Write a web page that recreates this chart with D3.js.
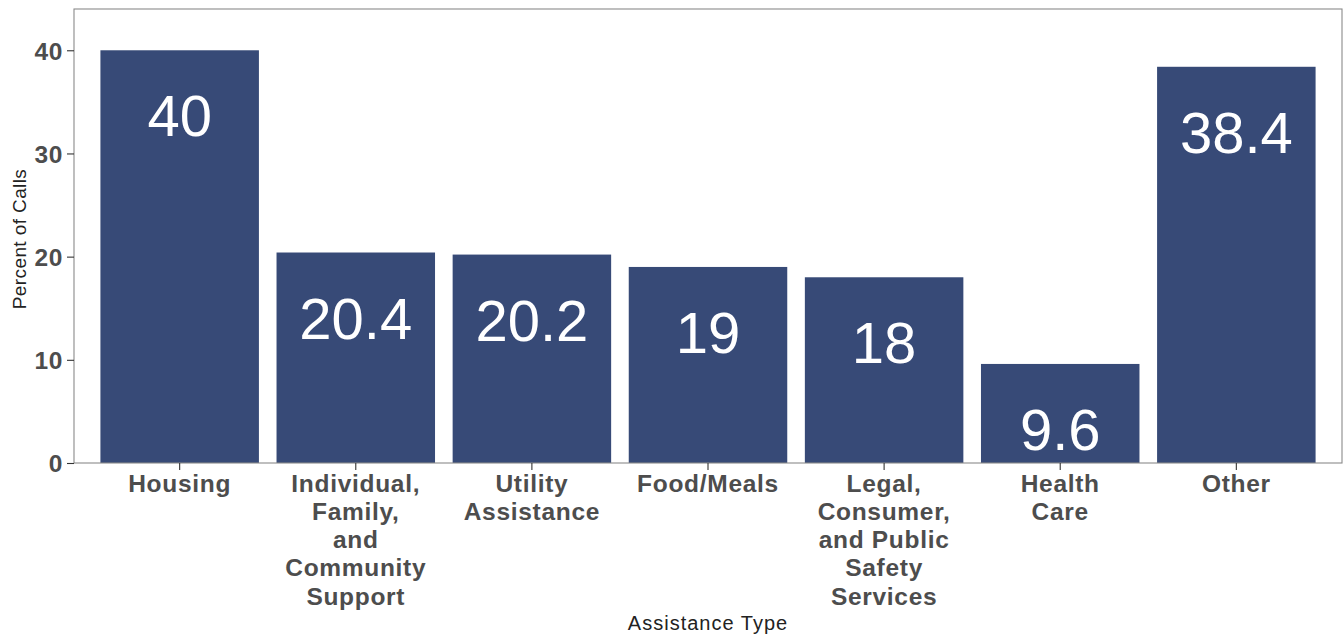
<!DOCTYPE html>
<html>
<head>
<meta charset="utf-8">
<script src="https://cdn.jsdelivr.net/npm/d3@7"></script>
<style>
  html, body { margin: 0; padding: 0; background: #ffffff; }
  svg { display: block; }
</style>
</head>
<body>
<svg id="chart" width="1343" height="635"></svg>
<script>
// Share of calls by assistance type
const categories = [
  ["Housing"],
  ["Individual,", "Family,", "and", "Community", "Support"],
  ["Utility", "Assistance"],
  ["Food/Meals"],
  ["Legal,", "Consumer,", "and Public", "Safety", "Services"],
  ["Health", "Care"],
  ["Other"]
];
const values = [40, 20.4, 20.2, 19, 18, 9.6, 38.4];
const yTicks = [0, 10, 20, 30, 40];

const W = 1343, H = 635;
const panel = { left: 74, right: 1342, top: 9, bottom: 463 };
const barColor = "#374a77";
const font = "Liberation Sans, Arial, sans-serif";

const svg = d3.select("#chart");
const keys = categories.map(c => c.join(" "));

const x = d3.scaleBand()
  .domain(keys)
  .range([panel.left, panel.right])
  .paddingInner(0.1)
  .paddingOuter(0.15);

const y = d3.scaleLinear()
  .domain([0, 44])
  .range([panel.bottom, panel.top]);

const data = keys.map((k, i) => ({ key: k, lines: categories[i], value: values[i] }));

// bars
svg.append("g")
  .selectAll("rect")
  .data(data)
  .join("rect")
  .attr("x", d => x(d.key))
  .attr("y", d => y(d.value))
  .attr("width", x.bandwidth())
  .attr("height", d => y(0) - y(d.value))
  .attr("fill", barColor);

// value labels inside bars
svg.append("g")
  .selectAll("text")
  .data(data)
  .join("text")
  .attr("x", d => x(d.key) + x.bandwidth() / 2)
  .attr("y", d => y(d.value) + 86)
  .attr("text-anchor", "middle")
  .attr("font-family", font)
  .attr("font-size", 58)
  .attr("fill", "#ffffff")
  .text(d => d.value);

// panel border
svg.append("rect")
  .attr("x", panel.left)
  .attr("y", panel.top)
  .attr("width", panel.right - panel.left)
  .attr("height", panel.bottom - panel.top)
  .attr("fill", "none")
  .attr("stroke", "#8a8a8a")
  .attr("stroke-width", 1.1);

// y axis
const yAxis = svg.append("g")
  .attr("transform", `translate(${panel.left},0)`)
  .call(d3.axisLeft(y).tickValues(yTicks).tickSize(7).tickPadding(4).tickFormat(d3.format("d")));
yAxis.select(".domain").remove();
yAxis.selectAll(".tick line").attr("stroke", "#333333").attr("stroke-width", 1.1);
yAxis.selectAll(".tick text")
  .attr("font-family", font)
  .attr("font-size", 24.5)
  .attr("font-weight", "bold")
  .attr("fill", "#4d4d4d")
  .style("letter-spacing", "0.6px")
  .attr("dy", "0.36em");

// x axis
const xAxis = svg.append("g")
  .attr("transform", `translate(0,${panel.bottom})`)
  .call(d3.axisBottom(x).tickSize(7).tickFormat(""));
xAxis.select(".domain").remove();
xAxis.selectAll(".tick line").attr("stroke", "#333333").attr("stroke-width", 1.1);

// multi-line category labels
const lineGap = 28.3;
svg.append("g")
  .selectAll("text")
  .data(data)
  .join("text")
  .attr("x", d => x(d.key) + x.bandwidth() / 2)
  .attr("y", 491.5)
  .attr("text-anchor", "middle")
  .attr("font-family", font)
  .attr("font-size", 24.5)
  .attr("font-weight", "bold")
  .attr("fill", "#4d4d4d")
  .style("letter-spacing", "0.7px")
  .each(function(d) {
    d3.select(this).selectAll("tspan")
      .data(d.lines)
      .join("tspan")
      .attr("x", x(d.key) + x.bandwidth() / 2)
      .attr("dy", (l, i) => i === 0 ? 0 : lineGap)
      .text(l => l);
  });

// axis titles
svg.append("text")
  .attr("x", (panel.left + panel.right) / 2)
  .attr("y", 629.5)
  .attr("text-anchor", "middle")
  .attr("font-family", font)
  .attr("font-size", 20)
  .attr("fill", "#222222")
  .style("letter-spacing", "1px")
  .text("Assistance Type");

svg.append("text")
  .attr("transform", `translate(26,239) rotate(-90)`)
  .attr("text-anchor", "middle")
  .attr("font-family", font)
  .attr("font-size", 19)
  .attr("fill", "#222222")
  .style("letter-spacing", "0.4px")
  .text("Percent of Calls");
</script>
</body>
</html>
